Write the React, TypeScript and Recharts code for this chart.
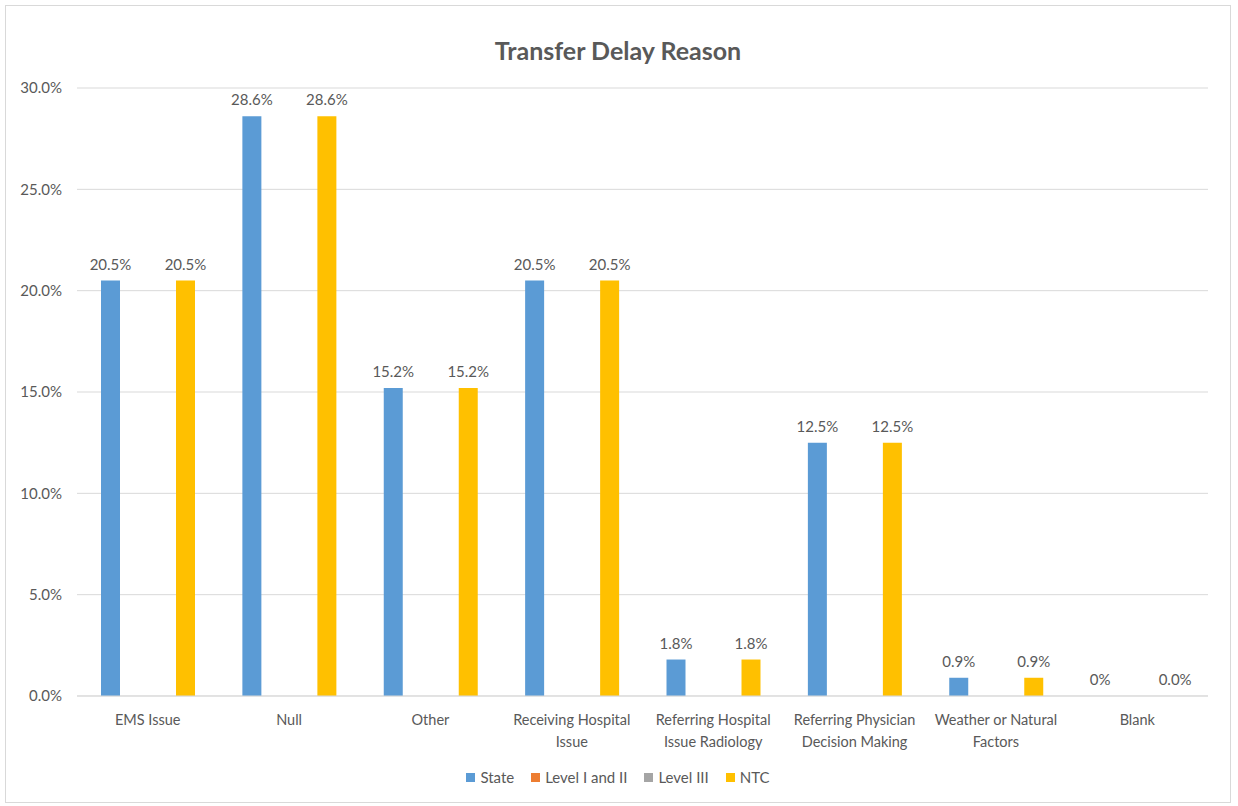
import { Bar, BarChart, CartesianGrid, LabelList, Legend, Text, XAxis, YAxis } from 'recharts';

const categories: string[] = [
  'EMS Issue',
  'Null',
  'Other',
  'Receiving Hospital Issue',
  'Referring Hospital Issue Radiology',
  'Referring Physician Decision Making',
  'Weather or Natural Factors',
  'Blank',
];

const stateValues: number[] = [20.5, 28.6, 15.2, 20.5, 1.8, 12.5, 0.9, 0];
const level12Values: number[] = [0, 0, 0, 0, 0, 0, 0, 0];
const level3Values: number[] = [0, 0, 0, 0, 0, 0, 0, 0];
const ntcValues: number[] = [20.5, 28.6, 15.2, 20.5, 1.8, 12.5, 0.9, 0];

const yTicks: number[] = [0, 5, 10, 15, 20, 25, 30];

const series = [
  { key: 'state', name: 'State', color: '#5B9BD5' },
  { key: 'level12', name: 'Level I and II', color: '#ED7D31' },
  { key: 'level3', name: 'Level III', color: '#A5A5A5' },
  { key: 'ntc', name: 'NTC', color: '#FFC000' },
];

const data = categories.map((name, i) => ({
  name,
  state: stateValues[i],
  level12: level12Values[i],
  level3: level3Values[i],
  ntc: ntcValues[i],
}));

const FONT = 'Lato, "Open Sans", sans-serif';
const TEXT = '#595959';

const CategoryTick = (props: any) => {
  const { x, y, payload } = props;
  return (
    <Text
      x={x}
      y={y + 11}
      width={138}
      textAnchor="middle"
      verticalAnchor="start"
      lineHeight={22}
      fill={TEXT}
      fontSize={14.5}
      fontFamily={FONT}
    >
      {payload.value}
    </Text>
  );
};

const LegendContent = () => (
  <div
    style={{
      display: 'flex',
      justifyContent: 'center',
      alignItems: 'center',
      gap: 17,
      height: 20,
      fontFamily: FONT,
      fontSize: 15,
      color: TEXT,
    }}
  >
    {series.map((s) => (
      <div key={s.key} style={{ display: 'flex', alignItems: 'center' }}>
        <span style={{ width: 9, height: 9, background: s.color, marginRight: 5, display: 'inline-block' }} />
        <span>{s.name}</span>
      </div>
    ))}
  </div>
);

const makeLabel = (shortZero: boolean) => (props: any) => {
  const { x, y, width, value } = props;
  if (value === undefined || value === null) return null;
  const text = shortZero && Number(value) === 0 ? '0%' : `${Number(value).toFixed(1)}%`;
  return (
    <text
      x={x + width / 2}
      y={y - 11}
      textAnchor="middle"
      fill={TEXT}
      fontSize={15}
      fontFamily={FONT}
    >
      {text}
    </text>
  );
};

const App = () => {
  return (
    <div
      style={{
        position: 'absolute',
        left: 5,
        top: 5,
        width: 1226,
        height: 798,
        border: '1px solid #D9D9D9',
        boxSizing: 'border-box',
        background: '#fff',
      }}
    >
      <div
        style={{
          position: 'absolute',
          top: 29,
          left: 0,
          width: '100%',
          textAlign: 'center',
          fontFamily: FONT,
          fontWeight: 'bold',
          fontSize: 25,
          color: TEXT,
        }}
      >
        Transfer Delay Reason
      </div>
      <BarChart
        width={1224}
        height={796}
        data={data}
        margin={{ top: 82, right: 22, left: 11, bottom: 15 }}
        barSize={19}
        barGap={6}
      >
        <CartesianGrid vertical={false} stroke="#D9D9D9" />
        <XAxis
          dataKey="name"
          height={71}
          interval={0}
          tickLine={false}
          axisLine={{ stroke: '#D9D9D9' }}
          tick={<CategoryTick />}
        />
        <YAxis
          width={60}
          domain={[0, 30]}
          ticks={yTicks}
          tickLine={false}
          axisLine={false}
          tickMargin={9}
          tickFormatter={(v: number) => `${v.toFixed(1)}%`}
          tick={{ fill: TEXT, fontSize: 15, fontFamily: FONT }}
        />
        <Legend
          verticalAlign="bottom"
          content={<LegendContent />}
          wrapperStyle={{ left: 0, width: 1224 }}
        />
        <Bar dataKey="state" name="State" fill="#5B9BD5" minPointSize={0.01} isAnimationActive={false}>
          <LabelList dataKey="state" content={makeLabel(true)} />
        </Bar>
        <Bar dataKey="level12" name="Level I and II" fill="#ED7D31" isAnimationActive={false} />
        <Bar dataKey="level3" name="Level III" fill="#A5A5A5" isAnimationActive={false} />
        <Bar dataKey="ntc" name="NTC" fill="#FFC000" minPointSize={0.01} isAnimationActive={false}>
          <LabelList dataKey="ntc" content={makeLabel(false)} />
        </Bar>
      </BarChart>
    </div>
  );
};

export default App;
